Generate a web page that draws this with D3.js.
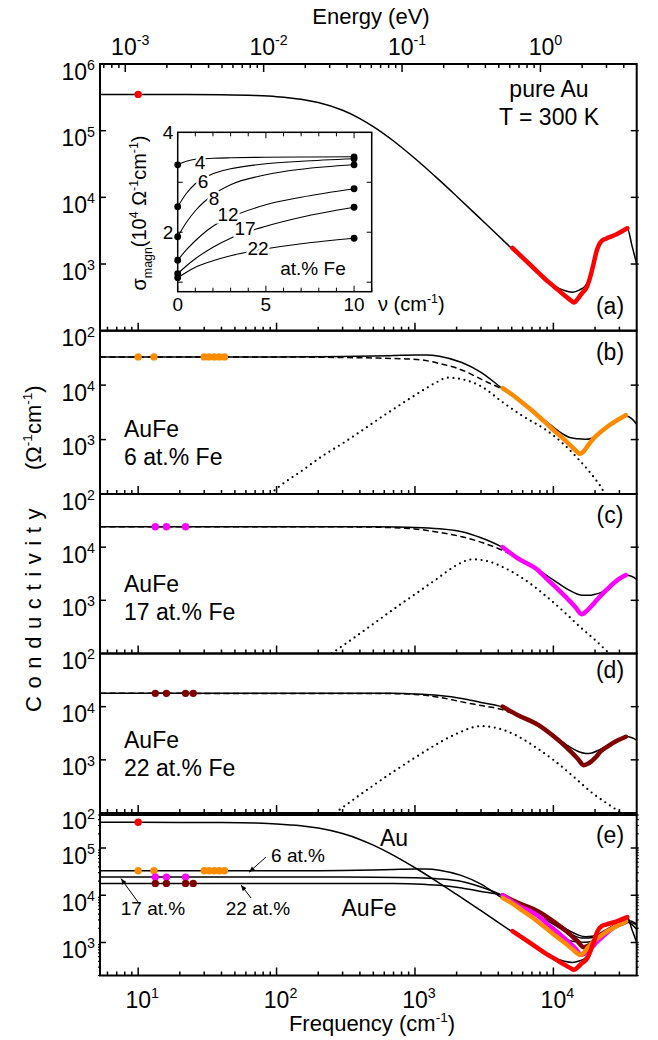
<!DOCTYPE html>
<html>
<head>
<meta charset="utf-8">
<title>AuFe optical conductivity</title>
<script src="https://cdn.jsdelivr.net/npm/d3@7/dist/d3.min.js"></script>
<style>
  body { margin: 0; background: #fff; }
  svg { display: block; }
  text { font-family: "Liberation Sans", Arial, Helvetica, sans-serif; fill: #000; }
</style>
</head>
<body>
<svg id="chart" width="658" height="1040"></svg>
<script>
// values: frequency in cm^-1, conductivity in Ohm^-1 cm^-1

// pure Au
const auFitNu  = [5.3, 10, 20, 40, 70, 100, 150, 200, 300, 400, 500, 700, 1000, 1500, 2000, 3000, 5000, 7400, 10000, 12000, 13700, 15500, 17000, 18500, 19500, 20500, 21500, 22500, 24000, 27000, 31000, 34200, 37000, 40000];
const auFitSig = [3.5e5, 3.5e5, 3.49e5, 3.46e5, 3.37e5, 3.24e5, 2.96e5, 2.64e5, 2.02e5, 1.52e5, 1.15e5, 7.0e4, 3.82e4, 1.81e4, 1.04e4, 4700, 1710, 790, 480, 400, 378, 410, 470, 650, 1000, 1500, 1950, 2250, 2450, 2650, 2950, 3450, 1870, 1000];
const auDataNu  = [5060, 6000, 7430, 9000, 10000, 12000, 13200, 14100, 15000, 16000, 17500, 18500, 19500, 20500, 21500, 22500, 24000, 27000, 30000, 34200];
const auDataSig = [1740, 1250, 817, 560, 470, 340, 290, 264, 300, 360, 458, 650, 1000, 1550, 2000, 2250, 2400, 2650, 2950, 3440];
const auDotNu  = [10];
const auDotSig = [3.5e5];

// AuFe 6 at.% Fe
const fe6FitNu  = [5.3, 100, 200, 300, 500, 700, 1000, 1200, 1500, 2180, 3000, 4250, 5500, 7180, 9000, 11000, 13000, 15000, 17000, 19000, 21000, 24000, 28000, 33400, 37000, 40000];
const fe6FitSig = [3.3e4, 3.3e4, 3.32e4, 3.35e4, 3.42e4, 3.5e4, 3.58e4, 3.58e4, 3.4e4, 2.6e4, 1.72e4, 8800, 5600, 3300, 2100, 1400, 1100, 1030, 1010, 1060, 1250, 1650, 2150, 2700, 2400, 1900];
const fe6DashNu  = [5.3, 100, 300, 500, 800, 1085, 1500, 2180, 3090, 4250, 5500, 7180];
const fe6DashSig = [3.3e4, 3.29e4, 3.22e4, 3.15e4, 3.05e4, 2.93e4, 2.5e4, 1.9e4, 1.24e4, 8400, 5500, 3300];
const fe6DotLNu  = [90, 104, 150, 220, 300, 403, 600, 850, 1200, 1450, 1710, 2200, 3000, 4400, 6000, 8850, 12000, 15000, 17800, 20000, 22000, 23500];
const fe6DotLSig = [100, 136, 260, 520, 850, 1400, 2800, 5000, 8700, 1.15e4, 1.37e4, 1.28e4, 9500, 4640, 2700, 1500, 800, 450, 275, 190, 136, 100];
const fe6DataNu  = [4300, 5000, 6000, 7180, 8500, 10000, 12000, 13500, 15000, 15500, 16500, 17800, 19100, 21000, 24000, 28000, 33400];
const fe6DataSig = [8800, 6800, 4700, 3250, 2200, 1500, 1000, 750, 580, 543, 600, 780, 985, 1250, 1650, 2150, 2800];
const fe6PtNu  = [10, 13, 30, 32.5, 35.5, 38.5, 42];
const fe6PtSig = [3.3e4, 3.3e4, 3.3e4, 3.3e4, 3.3e4, 3.3e4, 3.3e4];

// AuFe 17 at.% Fe
const fe17FitNu  = [5.3, 300, 500, 1000, 1500, 2180, 3000, 4250, 5500, 7820, 10960, 13000, 16000, 18000, 20000, 22000, 24400, 29000, 33400, 37000, 40000];
const fe17FitSig = [2.42e4, 2.42e4, 2.41e4, 2.35e4, 2.22e4, 1.95e4, 1.5e4, 1.0e4, 6500, 3700, 2070, 1550, 1250, 1240, 1300, 1400, 1650, 2400, 2950, 2800, 2470];
const fe17DashNu  = [5.3, 300, 500, 1000, 1500, 2180, 3090, 4250, 5800, 7820];
const fe17DashSig = [2.42e4, 2.41e4, 2.38e4, 2.2e4, 1.9e4, 1.57e4, 1.21e4, 8800, 5800, 3600];
const fe17DotLNu  = [250, 350, 500, 700, 1000, 1400, 2000, 2300, 2600, 3300, 4500, 6000, 8850, 12000, 15500, 20000, 25300];
const fe17DotLSig = [100, 185, 360, 680, 1300, 2400, 4600, 5500, 5900, 5500, 4000, 2600, 1200, 600, 320, 180, 100];
const fe17DataNu  = [4300, 5500, 7820, 9000, 10960, 13000, 14500, 16000, 17500, 19000, 20500, 22000, 24400, 29000, 33400];
const fe17DataSig = [1.0e4, 6200, 3600, 2500, 1550, 1000, 730, 550, 640, 800, 1000, 1220, 1600, 2400, 2990];
const fe17PtNu  = [13.3, 16, 22];
const fe17PtSig = [2.42e4, 2.42e4, 2.42e4];

// AuFe 22 at.% Fe
const fe22FitNu  = [5.3, 700, 1000, 1500, 2180, 3000, 4250, 5500, 7820, 10000, 12500, 15000, 17200, 19000, 21000, 24400, 29000, 33400, 37000, 40000];
const fe22FitSig = [1.78e4, 1.78e4, 1.74e4, 1.63e4, 1.43e4, 1.2e4, 9900, 7200, 4600, 2900, 1900, 1450, 1320, 1350, 1500, 1800, 2350, 2750, 2600, 2350];
const fe22DashNu  = [5.3, 500, 700, 1000, 1500, 2180, 3000, 4250, 5500, 7820];
const fe22DashSig = [1.78e4, 1.77e4, 1.76e4, 1.7e4, 1.5e4, 1.23e4, 1.05e4, 8800, 6800, 4400];
const fe22DotLNu  = [265, 350, 500, 700, 1000, 1500, 2000, 2990, 4000, 5500, 7500, 10000, 14000, 19000, 25000, 31000];
const fe22DotLSig = [100, 170, 330, 600, 1100, 2100, 3100, 4300, 3900, 2800, 1700, 1000, 480, 240, 145, 100];
const fe22DataNu  = [4300, 5500, 7820, 10000, 12500, 15000, 16600, 18000, 20400, 22000, 24400, 29000, 33400];
const fe22DataSig = [1.0e4, 7000, 4490, 2800, 1700, 1050, 795, 860, 1140, 1450, 1760, 2300, 2720];
const fe22PtNu  = [13.3, 16, 22, 25];
const fe22PtSig = [1.78e4, 1.78e4, 1.78e4, 1.78e4];

// inset: magnetic conductivity (10^4 Ohm^-1 cm^-1) vs frequency (cm^-1)
const insetNu = [0, 0.5, 1, 2, 3, 5, 7, 10];
const insetConc = ["4", "6", "8", "12", "17", "22"];
const insetSig = [
  [3.35, 3.42, 3.46, 3.48, 3.49, 3.50, 3.505, 3.51],
  [2.51, 2.78, 2.97, 3.17, 3.27, 3.37, 3.42, 3.47],
  [1.91, 2.20, 2.43, 2.75, 2.95, 3.15, 3.26, 3.35],
  [1.44, 1.65, 1.83, 2.12, 2.30, 2.55, 2.70, 2.87],
  [1.17, 1.33, 1.47, 1.70, 1.88, 2.12, 2.30, 2.50],
  [1.09, 1.20, 1.30, 1.43, 1.53, 1.67, 1.77, 1.88]
];

const RED = "#ff0000", ORANGE = "#ff8c00", MAGENTA = "#ff00ff", MAROON = "#800000";

// ---------------------------------------------------------------
const svg = d3.select("#chart");
const X0 = 100, X1 = 636.7;
const x = d3.scaleLog().domain([5.3, 4.0e4]).range([X0, X1]);
const eV = 8065.54;
const xE = d3.scaleLog().domain([5.3 / eV, 4.0e4 / eV]).range([X0, X1]);

const isDecade = v => Math.abs(Math.log10(v) - Math.round(Math.log10(v))) < 1e-9;

// text with super/subscripts: parts = [[string, "sup"|"sub"|""], ...]
function rich(t, parts, size) {
  let shift = 0;
  parts.forEach(([s, kind]) => {
    const target = kind === "sup" ? -0.42 * size : kind === "sub" ? 0.3 * size : 0;
    const ts = t.append("tspan").attr("dy", target - shift).text(s);
    if (kind) ts.attr("font-size", 0.62 * size);
    shift = target;
  });
  return t;
}
function label(g, px, py, size, anchor) {
  return g.append("text").attr("x", px).attr("y", py)
    .attr("font-size", size).attr("text-anchor", anchor || "start");
}

const fit = (nu, sig) => ({ nu, sig, color: "#000", width: 1.5 });
const dash = (nu, sig) => ({ nu, sig, color: "#000", width: 1.5, dash: "6,3.5" });
const dots = (nu, sig) => ({ nu, sig, color: "#000", width: 2.2, dash: "0,5.6", cap: "round" });
const data = (nu, sig, color) => ({ nu, sig, color, width: 4.5, cap: "round" });

const panels = [
  { key: "a", top: 64, bot: 330.7, dom: [1e2, 1e6], labels: [2, 3, 4, 5, 6], ticks: [3, 4, 5], letterY: 314,
    series: [fit(auFitNu, auFitSig), data(auDataNu, auDataSig, RED)],
    points: [{ nu: auDotNu, sig: auDotSig, color: RED }] },
  { key: "b", top: 330.7, bot: 494, dom: [1e2, 1e5], labels: [2, 3, 4], ticks: [3, 4], letterY: 360,
    series: [dots(fe6DotLNu, fe6DotLSig), dash(fe6DashNu, fe6DashSig), fit(fe6FitNu, fe6FitSig), data(fe6DataNu, fe6DataSig, ORANGE)],
    points: [{ nu: fe6PtNu, sig: fe6PtSig, color: ORANGE }], name: ["AuFe", "6 at.% Fe"], nameY: 437 },
  { key: "c", top: 494, bot: 653.5, dom: [1e2, 1e5], labels: [2, 3, 4], ticks: [3, 4], letterY: 523,
    series: [dots(fe17DotLNu, fe17DotLSig), dash(fe17DashNu, fe17DashSig), fit(fe17FitNu, fe17FitSig), data(fe17DataNu, fe17DataSig, MAGENTA)],
    points: [{ nu: fe17PtNu, sig: fe17PtSig, color: MAGENTA }], name: ["AuFe", "17 at.% Fe"], nameY: 592 },
  { key: "d", top: 653.5, bot: 813, dom: [1e2, 1e5], labels: [2, 3, 4], ticks: [3, 4], letterY: 678,
    series: [dots(fe22DotLNu, fe22DotLSig), dash(fe22DashNu, fe22DashSig), fit(fe22FitNu, fe22FitSig), data(fe22DataNu, fe22DataSig, MAROON)],
    points: [{ nu: fe22PtNu, sig: fe22PtSig, color: MAROON }], name: ["AuFe", "22 at.% Fe"], nameY: 748 },
  { key: "e", top: 815, bot: 975.5, dom: [2e2, 5e5], labels: [3, 4, 5], ticks: [3, 4, 5], letterY: 843, minorY: true,
    series: [fit(auFitNu, auFitSig), fit(fe6FitNu, fe6FitSig), fit(fe17FitNu, fe17FitSig), fit(fe22FitNu, fe22FitSig),
             data(fe22DataNu, fe22DataSig, MAROON), data(fe17DataNu, fe17DataSig, MAGENTA),
             data(fe6DataNu, fe6DataSig, ORANGE), data(auDataNu, auDataSig, RED)],
    points: [{ nu: auDotNu, sig: auDotSig, color: RED }, { nu: fe6PtNu, sig: fe6PtSig, color: ORANGE },
             { nu: fe17PtNu, sig: fe17PtSig, color: MAGENTA }, { nu: fe22PtNu, sig: fe22PtSig, color: MAROON }] }
];

panels.forEach(p => {
  const y = d3.scaleLog().domain(p.dom).range([p.bot, p.top]);
  p.y = y;
  const g = svg.append("g").attr("class", "panel-" + p.key);
  svg.append("clipPath").attr("id", "clip-" + p.key).append("rect")
    .attr("x", X0).attr("y", p.top).attr("width", X1 - X0).attr("height", p.bot - p.top);
  const plot = g.append("g").attr("clip-path", `url(#clip-${p.key})`);
  const line = d3.line().x(d => x(d[0])).y(d => y(d[1])).curve(d3.curveMonotoneX);

  p.series.forEach(s => {
    plot.append("path").datum(d3.zip(s.nu, s.sig)).attr("d", line)
      .attr("fill", "none").attr("stroke", s.color).attr("stroke-width", s.width)
      .attr("stroke-dasharray", s.dash || null)
      .attr("stroke-linecap", s.cap || "butt").attr("stroke-linejoin", "round");
  });
  p.points.forEach(s => {
    plot.append("g").selectAll("circle").data(d3.zip(s.nu, s.sig)).join("circle")
      .attr("cx", d => x(d[0])).attr("cy", d => y(d[1])).attr("r", 3.7).attr("fill", s.color);
  });

  // x ticks on the panel bottom, pointing in
  g.append("g").selectAll("line").data(x.ticks().filter(t => t < 3.99e4)).join("line")
    .attr("x1", d => x(d)).attr("x2", d => x(d))
    .attr("y1", p.bot).attr("y2", d => p.bot - (isDecade(d) ? 8 : 4))
    .attr("stroke", "#000").attr("stroke-width", 1.5);

  // y ticks, both sides, pointing in
  p.ticks.forEach(e => {
    const yy = y(Math.pow(10, e));
    g.append("line").attr("x1", X0).attr("x2", X0 + 6).attr("y1", yy).attr("y2", yy).attr("stroke", "#000").attr("stroke-width", 1.5);
    g.append("line").attr("x1", X1 - 6).attr("x2", X1 + 2).attr("y1", yy).attr("y2", yy).attr("stroke", "#000").attr("stroke-width", 1.5);
  });
  if (p.minorY) {
    y.ticks().filter(t => !isDecade(t)).forEach(t => {
      const yy = y(t);
      g.append("line").attr("x1", X0 - 2).attr("x2", X0).attr("y1", yy).attr("y2", yy).attr("stroke", "#000").attr("stroke-width", 1.2);
      g.append("line").attr("x1", X1).attr("x2", X1 + 2).attr("y1", yy).attr("y2", yy).attr("stroke", "#000").attr("stroke-width", 1.2);
    });
  }
  p.labels.forEach(e => {
    rich(label(g, 95, y(Math.pow(10, e)) + 15.5, 23, "end"), [["10", ""], [String(e), "sup"]], 23);
  });

  g.append("rect").attr("x", X0).attr("y", p.top).attr("width", X1 - X0).attr("height", p.bot - p.top)
    .attr("fill", "none").attr("stroke", "#000").attr("stroke-width", 2);

  label(g, 610, p.letterY, 23, "middle").text(`(${p.key})`);
  if (p.name) {
    label(g, 124, p.nameY, 23).text(p.name[0]);
    label(g, 124, p.nameY + 28, 23).text(p.name[1]);
  }
});

// top energy axis
const topY = panels[0].top;
svg.append("g").selectAll("line").data(xE.ticks()).join("line")
  .attr("x1", d => xE(d)).attr("x2", d => xE(d))
  .attr("y1", topY).attr("y2", d => topY + (isDecade(d) ? 8 : 4))
  .attr("stroke", "#000").attr("stroke-width", 1.5);
[-3, -2, -1, 0].forEach(e => {
  rich(label(svg, xE(Math.pow(10, e)) + 5, 55, 23, "middle"), [["10", ""], [String(e), "sup"]], 23);
});
label(svg, 371, 24, 22, "middle").text("Energy (eV)");

// bottom frequency axis labels
[1, 2, 3, 4].forEach(e => {
  rich(label(svg, x(Math.pow(10, e)) + 4, 1008, 23, "middle"), [["10", ""], [String(e), "sup"]], 23);
});
rich(label(svg, 372, 1031, 22, "middle"), [["Frequency (cm", ""], ["-1", "sup"], [")", ""]], 22);

// y axis title, letter-spaced word then the unit
const yt = svg.append("text").attr("transform", "translate(41,712) rotate(-90)").attr("font-size", 22);
yt.append("tspan").attr("letter-spacing", 7.6).text("Conductivity");
rich(yt, [["(\u03A9", ""], ["-1", "sup"], ["cm", ""], ["-1", "sup"], [")", ""]], 22);
yt.selectAll("tspan").filter((d, i) => i === 1).attr("x", 242);

// panel (a) annotations
label(svg, 549, 97, 23, "middle").text("pure Au");
label(svg, 549, 125, 23, "middle").text("T = 300 K");

// panel (e) annotations
const pe = panels[4];
label(svg, 394, 846, 23, "middle").text("Au");
label(svg, 369, 916, 23, "middle").text("AuFe");
label(svg, 298, 862, 19, "middle").text("6 at.%");
label(svg, 153, 915, 19, "middle").text("17 at.%");
label(svg, 258, 915, 19, "middle").text("22 at.%");
svg.append("defs").append("marker").attr("id", "arr").attr("viewBox", "0 0 10 10")
  .attr("refX", 10).attr("refY", 5).attr("markerWidth", 6).attr("markerHeight", 6).attr("orient", "auto")
  .append("path").attr("d", "M0,1 L10,5 L0,9 Z").attr("fill", "#000");
[[266, 857, 249, pe.y(3.3e4)], [138, 902, 121, pe.y(2.42e4)], [251, 898, 241, pe.y(1.78e4)]].forEach(a => {
  svg.append("line").attr("x1", a[0]).attr("y1", a[1]).attr("x2", a[2]).attr("y2", a[3] + 1.5)
    .attr("stroke", "#000").attr("stroke-width", 1).attr("marker-end", "url(#arr)");
});

// inset in panel (a)
const xi = d3.scaleLinear().domain([0, 11]).range([177.7, 371.7]);
const yi = d3.scaleLinear().domain([0.81, 4]).range([291.7, 132.3]);
const ins = svg.append("g").attr("class", "inset");
ins.append("rect").attr("x", xi(0)).attr("y", yi(4)).attr("width", xi(11) - xi(0)).attr("height", yi(0.81) - yi(4))
  .attr("fill", "#fff");
const iline = d3.line().x(d => xi(d[0])).y(d => yi(d[1])).curve(d3.curveMonotoneX);
insetSig.forEach(s => {
  ins.append("path").datum(d3.zip(insetNu, s)).attr("d", iline)
    .attr("fill", "none").attr("stroke", "#000").attr("stroke-width", 1.1);
});
insetSig.forEach(s => {
  ins.append("circle").attr("cx", xi(insetNu[0])).attr("cy", yi(s[0])).attr("r", 3.4);
  ins.append("circle").attr("cx", xi(insetNu[insetNu.length - 1])).attr("cy", yi(s[s.length - 1])).attr("r", 3.4);
});
const labelPos = [[200, 169], [203, 188], [214, 204.5], [228, 221], [245, 234.5], [258, 254.5]];
insetConc.forEach((c, i) => {
  label(ins, labelPos[i][0], labelPos[i][1], 19, "middle").text(c)
    .attr("stroke", "#fff").attr("stroke-width", 5).attr("paint-order", "stroke");
});
label(ins, 313, 275, 19, "middle").text("at.% Fe");
d3.range(0, 12).forEach(v => {
  const len = v % 5 === 0 ? 6 : 4;
  ins.append("line").attr("x1", xi(v)).attr("x2", xi(v)).attr("y1", yi(0.81)).attr("y2", yi(0.81) - len).attr("stroke", "#000");
  ins.append("line").attr("x1", xi(v)).attr("x2", xi(v)).attr("y1", yi(4)).attr("y2", yi(4) + len).attr("stroke", "#000");
});
[1, 2, 3].forEach(v => {
  ins.append("line").attr("x1", xi(0)).attr("x2", xi(0) + 5).attr("y1", yi(v)).attr("y2", yi(v)).attr("stroke", "#000");
  ins.append("line").attr("x1", xi(11) - 5).attr("x2", xi(11)).attr("y1", yi(v)).attr("y2", yi(v)).attr("stroke", "#000");
});
ins.append("rect").attr("x", xi(0)).attr("y", yi(4)).attr("width", xi(11) - xi(0)).attr("height", yi(0.81) - yi(4))
  .attr("fill", "none").attr("stroke", "#000").attr("stroke-width", 1.5);
[0, 5, 10].forEach(v => label(ins, xi(v), 311, 19, "middle").text(v));
[2, 4].forEach(v => label(ins, 168, yi(v) + 7, 19, "middle").text(v));
rich(label(ins, 378, 311, 20), [["\u03BD (cm", ""], ["-1", "sup"], [")", ""]], 20);
rich(ins.append("text").attr("transform", "translate(146,213) rotate(-90)").attr("font-size", 20).attr("text-anchor", "middle"),
  [["\u03C3", ""], ["magn", "sub"], ["(10", ""], ["4", "sup"], [" \u03A9", ""], ["-1", "sup"], ["cm", ""], ["-1", "sup"], [")", ""]], 20);
</script>
</body>
</html>
